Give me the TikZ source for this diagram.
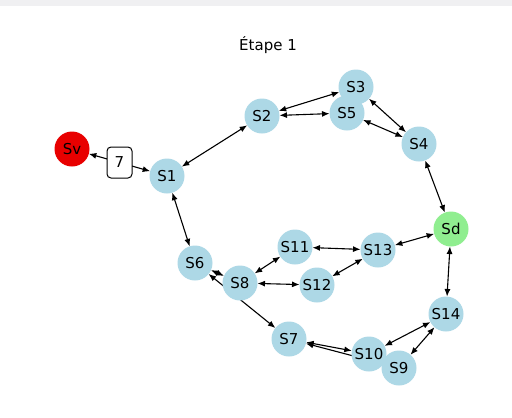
\documentclass[tikz,border=0pt]{standalone}
\usepackage{fontspec}
\setmainfont{DejaVu Sans}
\usetikzlibrary{arrows.meta,calc}
\definecolor{nodeblue}{HTML}{ADD8E6}
\definecolor{nodegreen}{HTML}{90EE90}
\definecolor{nodered}{HTML}{E80000}
\definecolor{topband}{HTML}{F0F0F2}
\pgfdeclarelayer{bg}
\pgfdeclarelayer{edges}
\pgfsetlayers{bg,edges,main}
\begin{document}
\begin{tikzpicture}[x=1pt,y=-1pt,
  state/.style={circle,fill=nodeblue,minimum size=35pt,inner sep=0pt,outer sep=0pt,font=\fontsize{15}{17}\selectfont},
  link/.style={{Latex[length=7.5pt,width=6pt]}-{Latex[length=7.5pt,width=6pt]},line width=1.1pt,black},
  wlabel/.style={draw,fill=white,rounded corners=4pt,line width=1pt,minimum width=25pt,minimum height=31pt,inner sep=0pt,font=\fontsize{15}{17}\selectfont}]
\useasboundingbox (0,0) rectangle (512,418);
\begin{pgfonlayer}{bg}
\fill[white] (0,0) rectangle (512,418);
\fill[topband] (0,0) rectangle (512,6);
\end{pgfonlayer}
\node[font=\fontsize{15}{17}\selectfont] (title) at (268,45) {Étape 1};
\node[state,fill=nodered] (Sv) at (72,149) {Sv};
\node[state] (S1) at (167,176) {S1};
\node[state] (S2) at (262,116) {S2};
\node[state] (S3) at (356,87) {S3};
\node[state] (S5) at (347,113) {S5};
\node[state] (S4) at (419,144) {S4};
\node[state,fill=nodegreen] (Sd) at (451,229) {Sd};
\node[state] (S13) at (378,250) {S13};
\node[state] (S11) at (295,247) {S11};
\node[state] (S12) at (317,285) {S12};
\node[state] (S8) at (240,283) {S8};
\node[state] (S6) at (195,263) {S6};
\node[state] (S7) at (289,339) {S7};
\node[state] (S10) at (369,354) {S10};
\node[state] (S9) at (399,368) {S9};
\node[state] (S14) at (446,314) {S14};
\begin{pgfonlayer}{edges}
\draw[link] (S1) -- (Sv);
\draw[link] (S1) -- (S2);
\draw[link] (S1) -- (S6);
\draw[link] (S2) -- (S3);
\draw[link] (S2) -- (S5);
\draw[link] (S3) -- (S4);
\draw[link] (S5) -- (S4);
\draw[link] (S4) -- (Sd);
\draw[link] (Sd) -- (S13);
\draw[link] (Sd) -- (S14);
\draw[link] (S13) -- (S11);
\draw[link] (S13) -- (S12);
\draw[link] (S11) -- (S8);
\draw[link] (S12) -- (S8);
\draw[link] (S6) -- (S8);
\draw[link] (S6) -- (S7);
\draw[link] (S7) -- (S10);
\draw[link] (S7) -- (S9);
\draw[link] (S10) -- (S14);
\draw[link] (S9) -- (S14);
\end{pgfonlayer}
\node[wlabel] (w7) at ($(Sv)!0.5!(S1)$) {7};
\end{tikzpicture}
\end{document}
